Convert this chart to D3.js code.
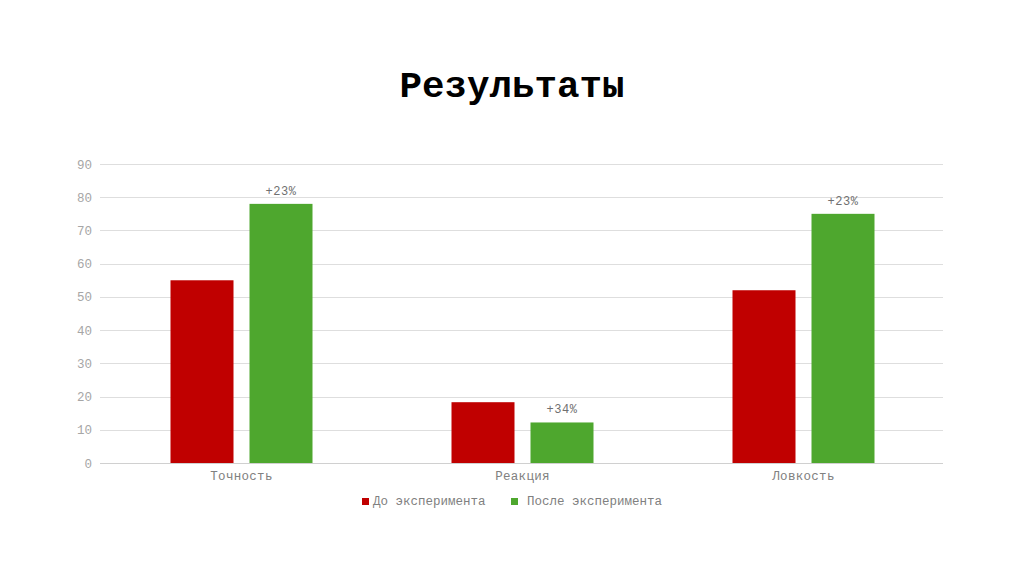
<!DOCTYPE html>
<html>
<head>
<meta charset="utf-8">
<script src="https://cdn.jsdelivr.net/npm/d3@7"></script>
<style>
  body { margin: 0; background: white; }
  text { font-family: "Liberation Mono", "DejaVu Sans Mono", monospace; }
</style>
</head>
<body>
<div id="chart"></div>
<script>
// Chart data
const categories = ["Точность", "Реакция", "Ловкость"];
const seriesNames = ["До эксперимента", "После эксперимента"];
const beforeValues = [55, 18.3, 52];
const afterValues = [78, 12.2, 75];
const changeLabels = ["+23%", "+34%", "+23%"];
const yTicks = [0, 10, 20, 30, 40, 50, 60, 70, 80, 90];

let width = 1024, height = 574;
let margin = { top: 164, bottom: 111, left: 100, right: 81 };

let svg = d3.select("#chart")
    .append("svg")
    .attr("width", width)
    .attr("height", height)
    .style("background", "white");

// Title
svg.append("text")
    .attr("x", width / 2)
    .attr("y", 97)
    .attr("text-anchor", "middle")
    .style("font-size", "37.5px")
    .style("font-weight", "bold")
    .attr("fill", "#000")
    .text("Результаты");

// Scales
let y = d3.scaleLinear()
    .domain([0, 90])
    .range([height - margin.bottom, margin.top]);

let x0 = d3.scaleBand()
    .domain(categories)
    .range([margin.left, width - margin.right]);

// Inner scale: two bars of 63px with 16px gap, centred in each band
let groupW = 142;
let x1 = d3.scaleBand()
    .domain(seriesNames)
    .range([(x0.bandwidth() - groupW) / 2 + 1, (x0.bandwidth() + groupW) / 2 + 1])
    .paddingInner(16 / 79);

let color = d3.scaleOrdinal()
    .domain(seriesNames)
    .range(["#c00000", "#4ea72e"]);

// Gridlines
svg.append("g")
    .selectAll("line")
    .data(yTicks)
    .enter()
    .append("line")
    .attr("x1", margin.left)
    .attr("x2", width - margin.right)
    .attr("y1", d => Math.round(y(d)) + 0.5)
    .attr("y2", d => Math.round(y(d)) + 0.5)
    .attr("stroke", d => d === 0 ? "#d0d0d0" : "#dedede")
    .attr("stroke-width", 1);

// Y axis labels
let yAxis = svg.append("g")
    .attr("transform", `translate(${margin.left - 8},0)`)
    .call(d3.axisLeft(y).tickValues(yTicks).tickSize(0).tickPadding(0));
yAxis.select(".domain").remove();
yAxis.selectAll("text")
    .style("font-size", "12.5px")
    .style("font-family", "'Liberation Mono', monospace")
    .attr("fill", "#a6a6a6");

// X axis labels
let xAxis = svg.append("g")
    .attr("transform", `translate(1,${height - margin.bottom + 8})`)
    .call(d3.axisBottom(x0).tickSize(0).tickPadding(0));
xAxis.select(".domain").remove();
xAxis.selectAll("text")
    .style("font-size", "12.5px")
    .style("font-family", "'Liberation Mono', monospace")
    .style("letter-spacing", "0.3px")
    .attr("fill", "#808080");

// Bars
let rows = categories.map((c, i) => ({
    category: c,
    values: [
        { series: seriesNames[0], value: beforeValues[i] },
        { series: seriesNames[1], value: afterValues[i], label: changeLabels[i] }
    ]
}));

let groups = svg.selectAll(".barGroup")
    .data(rows)
    .enter()
    .append("g")
    .attr("class", "barGroup")
    .attr("transform", d => `translate(${x0(d.category)},0)`);

groups.selectAll("rect")
    .data(d => d.values)
    .enter()
    .append("rect")
    .attr("x", d => x1(d.series))
    .attr("y", d => y(d.value))
    .attr("width", x1.bandwidth())
    .attr("height", d => y(0) - y(d.value))
    .attr("fill", d => color(d.series));

// Change labels above the green bars
groups.selectAll(".lbl")
    .data(d => d.values.filter(v => v.label))
    .enter()
    .append("text")
    .attr("class", "lbl")
    .attr("x", d => x1(d.series) + x1.bandwidth() / 2)
    .attr("y", d => y(d.value) - 9)
    .attr("text-anchor", "middle")
    .style("font-size", "12px")
    .style("letter-spacing", "0.5px")
    .attr("fill", "#707070")
    .text(d => d.label);

// Legend
let legendX = [362, 511];
let legend = svg.append("g");
seriesNames.forEach((s, i) => {
    legend.append("rect")
        .attr("x", legendX[i])
        .attr("y", 498)
        .attr("width", 7)
        .attr("height", 7)
        .attr("fill", color(s));
    legend.append("text")
        .attr("x", legendX[i] + (i === 0 ? 11 : 16))
        .attr("y", 505)
        .style("font-size", "12.5px")
        .attr("fill", "#808080")
        .text(s);
});
</script>
</body>
</html>
